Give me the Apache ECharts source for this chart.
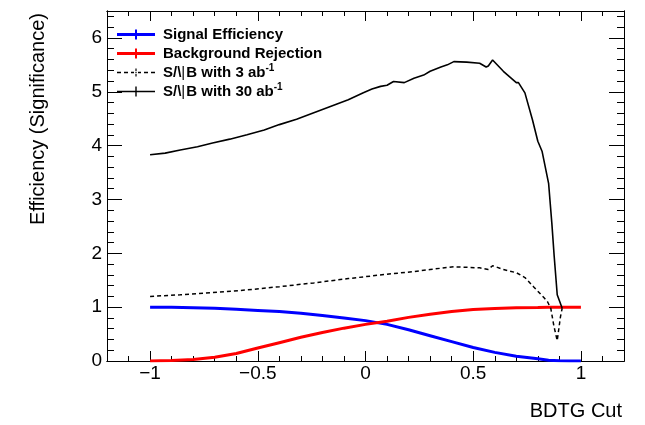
<!DOCTYPE html>
<html><head><meta charset="utf-8">
<script src="https://cdn.jsdelivr.net/npm/echarts@6/dist/echarts.min.js"></script>
<style>html,body{margin:0;padding:0;background:#fff}#c{width:645px;height:425px}</style>
</head><body><div id="c"></div>
<script>
// ---------- data ----------
const seriesNames = ['Signal Efficiency', 'Background Rejection', 'S/\\B with 3 ab-1', 'S/\\B with 30 ab-1'];

const effX   = [-1, -0.9, -0.8, -0.7, -0.6, -0.5, -0.4, -0.3, -0.2, -0.1, 0, 0.1, 0.2, 0.3, 0.4, 0.5, 0.6, 0.7, 0.8, 0.85, 0.9, 0.95, 1.0];
const sigEff = [1.0, 0.998, 0.99, 0.98, 0.96, 0.94, 0.92, 0.885, 0.845, 0.80, 0.75, 0.68, 0.58, 0.47, 0.36, 0.25, 0.16, 0.09, 0.04, 0.015, 0.003, 0.0, 0.0];
const bkgRej = [0, 0.01, 0.03, 0.07, 0.14, 0.24, 0.34, 0.44, 0.53, 0.61, 0.68, 0.74, 0.81, 0.87, 0.92, 0.955, 0.975, 0.99, 0.995, 0.998, 1.0, 1.0, 1.0];

const sig3X = [-1.0, -0.86, -0.71, -0.55, -0.40, -0.24, -0.08, 0.03, 0.12, 0.225, 0.30, 0.41, 0.53, 0.57, 0.59, 0.64, 0.70, 0.74, 0.78, 0.83, 0.845, 0.86, 0.875, 0.89, 0.905, 0.913];
const sig3Y = [1.20, 1.23, 1.27, 1.32, 1.38, 1.45, 1.53, 1.58, 1.62, 1.66, 1.70, 1.75, 1.73, 1.70, 1.77, 1.70, 1.64, 1.55, 1.38, 1.17, 1.10, 0.98, 0.64, 0.38, 0.82, 0.98];

const sig30X = [-1.0, -0.93, -0.86, -0.78, -0.71, -0.63, -0.55, -0.47, -0.40, -0.32, -0.24, -0.16, -0.08, -0.01, 0.03, 0.07, 0.10, 0.13, 0.18, 0.225, 0.27, 0.30, 0.35, 0.38, 0.41, 0.47, 0.53, 0.56, 0.57, 0.59, 0.64, 0.70, 0.71, 0.74, 0.775, 0.80, 0.82, 0.85, 0.865, 0.876, 0.89, 0.913];
const sig30Y = [3.83, 3.86, 3.92, 3.98, 4.05, 4.12, 4.20, 4.29, 4.39, 4.49, 4.61, 4.73, 4.85, 4.98, 5.05, 5.10, 5.12, 5.19, 5.17, 5.25, 5.31, 5.38, 5.46, 5.50, 5.56, 5.55, 5.53, 5.46, 5.48, 5.59, 5.38, 5.17, 5.17, 4.98, 4.48, 4.08, 3.89, 3.30, 2.56, 1.94, 1.23, 0.98];

const xTickLabels = [-1, -0.5, 0, 0.5, 1];
const xMinorTicks = [-1.2, -1.1, -0.9, -0.8, -0.7, -0.6, -0.4, -0.3, -0.2, -0.1, 0.1, 0.2, 0.3, 0.4, 0.6, 0.7, 0.8, 0.9, 1.1, 1.2];
const yTickLabels = [0, 1, 2, 3, 4, 5, 6];
const yMinorTicks = [];
for (let i = 0; i <= 6; i++) { for (let j = 1; j <= 4; j++) yMinorTicks.push(+(i + j * 0.2).toFixed(1)); }
yMinorTicks.push(6.2, 6.4);

const xTitle = 'BDTG Cut';
const yTitle = 'Efficiency (Significance)';

// ---------- chart ----------
const FONT = '"Liberation Sans", Arial, Helvetica, sans-serif';
const blk = { color: '#000', width: 1 };
const pairs = (xs, ys) => xs.map((x, i) => [x, ys[i]]);
const minus = v => (v < 0 ? '\u2212' + Math.abs(v) : String(v));

function xAx(pos, ticks, len, labels) {
  return {
    type: 'value', position: pos, min: -1.2, max: 1.2, gridIndex: 0,
    axisLine: { show: true, onZero: false, lineStyle: blk },
    axisTick: { show: true, inside: true, length: len, customValues: ticks, lineStyle: blk },
    axisLabel: labels ? { show: true, customValues: ticks, margin: 3, fontSize: 19, fontFamily: FONT, color: '#000', formatter: minus } : { show: false },
    splitLine: { show: false }, minorTick: { show: false }
  };
}
function yAx(pos, ticks, len, labels) {
  return {
    type: 'value', position: pos, min: 0, max: 6.5, gridIndex: 0,
    axisLine: { show: true, onZero: false, lineStyle: blk },
    axisTick: { show: true, inside: true, length: len, customValues: ticks, lineStyle: blk },
    axisLabel: labels ? { show: true, customValues: ticks, margin: 5, fontSize: 19, fontFamily: FONT, color: '#000' } : { show: false },
    splitLine: { show: false }, minorTick: { show: false }
  };
}

const icons = [
  'path://M0,4.5H38V7.5H0Z M18,1H20V11H18Z M0,0H0.01V12H0Z',
  'path://M0,4.5H38V7.5H0Z M18,1H20V11H18Z M0,0H0.01V12H0Z',
  'path://M0,5.3H4V6.7H0Z M7,5.3H11V6.7H7Z M14,5.3H17V6.7H14Z M21,5.3H24V6.7H21Z M27,5.3H31V6.7H27Z M34,5.3H38V6.7H34Z M18.4,2H19.6V4.5H18.4Z M18.4,5.3H19.6V6.7H18.4Z M18.4,7.5H19.6V10H18.4Z M0,0H0.01V12H0Z',
  'path://M0,5.25H38V6.75H0Z M18.3,1H19.7V11H18.3Z M0,0H0.01V12H0Z'
];

const chart = echarts.init(document.getElementById('c'), null, { renderer: 'canvas' });
chart.setOption({
  animation: false,
  backgroundColor: '#fff',
  grid: { left: 107, right: 21, top: 11, bottom: 64, containLabel: false },
  xAxis: [
    xAx('bottom', xTickLabels, 10, true),
    xAx('bottom', xMinorTicks, 5, false),
    xAx('top', xTickLabels, 10, false),
    xAx('top', xMinorTicks, 5, false)
  ],
  yAxis: [
    yAx('left', yTickLabels, 15, true),
    yAx('left', yMinorTicks, 7, false),
    yAx('right', yTickLabels, 15, false),
    yAx('right', yMinorTicks, 7, false)
  ],
  legend: {
    orient: 'vertical', left: 117, top: 25, padding: 0, itemGap: 0,
    itemWidth: 38, itemHeight: 12, selectedMode: false,
    itemStyle: { borderWidth: 0 },
    data: seriesNames.map((n, i) => ({ name: n, icon: icons[i] })),
    textStyle: {
      fontFamily: FONT, fontSize: 15, fontWeight: 'bold', color: '#000', lineHeight: 19, padding: [0, 0, 0, 3],
      rich: {
        t: { fontFamily: FONT, fontSize: 15, fontWeight: 'bold', color: '#000', lineHeight: 19 },
        bar: { fontFamily: FONT, fontSize: 15, fontWeight: 'normal', color: '#000', lineHeight: 19, padding: [0, 1, 0, 0] },
        sup: { fontFamily: FONT, fontSize: 10, fontWeight: 'bold', color: '#000', lineHeight: 11, verticalAlign: 'top' }
      }
    },
    formatter: function (name) {
      const m = name.match(/^S\/\\B(.*)-1$/);
      if (m) return '{t|S/\\}{bar||}{t|B' + m[1] + '}{sup|-1}';
      return '{t|' + name + '}';
    }
  },
  graphic: [
    { type: 'text', x: 622, y: 411, style: { text: xTitle, font: '20px ' + FONT, fill: '#000', textAlign: 'right', textVerticalAlign: 'middle' } },
    { type: 'text', x: 38, y: 13, rotation: Math.PI / 2, style: { text: yTitle, font: '20px ' + FONT, fill: '#000', textAlign: 'right', textVerticalAlign: 'middle' } }
  ],
  series: [
    { name: seriesNames[0], type: 'line', data: pairs(effX, sigEff), showSymbol: false, symbol: 'none', lineStyle: { color: '#0000ff', width: 3 }, itemStyle: { color: '#0000ff' }, z: 3 },
    { name: seriesNames[1], type: 'line', data: pairs(effX, bkgRej), showSymbol: false, symbol: 'none', lineStyle: { color: '#ff0000', width: 3 }, itemStyle: { color: '#ff0000' }, z: 3 },
    { name: seriesNames[2], type: 'line', data: pairs(sig3X, sig3Y), showSymbol: false, symbol: 'none', lineStyle: { color: '#000', width: 1.5, type: [4, 3] }, itemStyle: { color: '#000' }, z: 4 },
    { name: seriesNames[3], type: 'line', data: pairs(sig30X, sig30Y), showSymbol: false, symbol: 'none', lineStyle: { color: '#000', width: 1.6 }, itemStyle: { color: '#000' }, z: 4 }
  ]
});
</script>
</body></html>
